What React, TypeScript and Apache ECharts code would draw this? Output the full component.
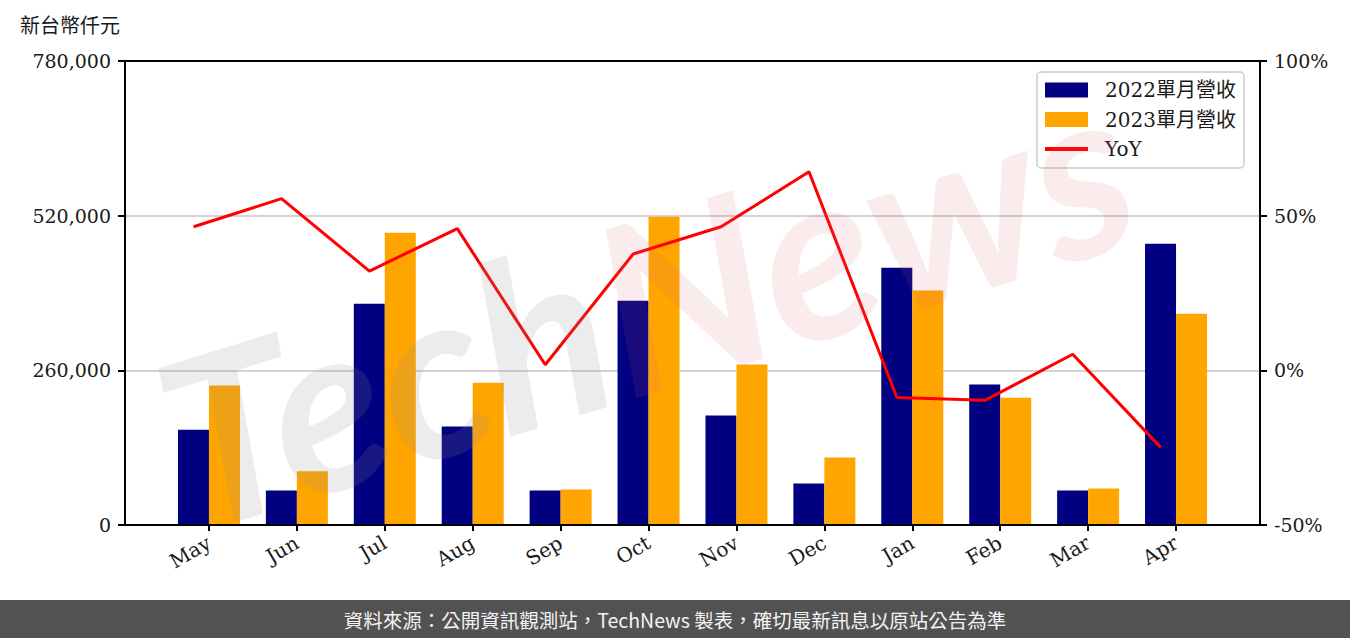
import React, { useEffect, useRef } from "react";
import * as echarts from "echarts";

const months = ["May", "Jun", "Jul", "Aug", "Sep", "Oct", "Nov", "Dec", "Jan", "Feb", "Mar", "Apr"];
const rev2022 = [160300, 57800, 372100, 165400, 57800, 377100, 183900, 69600, 432600, 236000, 57800, 473000];
const rev2023 = [234300, 90300, 491400, 239300, 59500, 518300, 269600, 113300, 394000, 214100, 61200, 355300];
const yoy = [46.4, 55.5, 32.1, 45.8, 1.8, 37.6, 46.4, 64.2, -8.8, -9.7, 5.2, -24.9];
const leftAxis = { min: 0, max: 780000, interval: 260000 };
const rightAxis = { min: -50, max: 100, interval: 50 };
const seriesNames = ["2022單月營收", "2023單月營收", "YoY"];
const unitLabel = "新台幣仟元";
const footerText = "資料來源：公開資訊觀測站，TechNews 製表，確切最新訊息以原站公告為準";

const SERIF = '"DejaVu Serif", "Noto Sans CJK TC", serif';
const CJK = '"Noto Sans CJK TC", sans-serif';
const HALF_BAR = 0.175;

export default function App() {
  const ref = useRef<HTMLDivElement>(null);
  useEffect(() => {
    document.body.style.margin = "0";
    const chart = echarts.init(ref.current!, null, { renderer: "svg" });
    const idx = months.map((_, i) => i);
    chart.setOption({
      animation: false,
      backgroundColor: "#ffffff",
      grid: {
        left: 125,
        right: 90,
        top: 61,
        bottom: 113,
        show: true,
        borderColor: "#000",
        borderWidth: 2,
        backgroundColor: "transparent",
        z: 3,
      },
      legend: {
        orient: "vertical",
        left: 1037,
        top: 72,
        itemWidth: 43,
        itemHeight: 15,
        itemGap: 9.5,
        padding: [8, 8, 9, 8],
        borderColor: "#cccccc",
        borderWidth: 1.5,
        borderRadius: 4,
        backgroundColor: "rgba(255,255,255,0.85)",
        z: 6,
        data: [
          { name: seriesNames[0], icon: "rect" },
          { name: seriesNames[1], icon: "rect" },
          { name: seriesNames[2], icon: "path://M0,0 L43,0 L43,4 L0,4 Z" },
        ],
        textStyle: {
          fontFamily: SERIF,
          fontSize: 20,
          lineHeight: 20,
          color: "#1a1a1a",
          padding: [0, 0, 0, 12],
        },
      },
      xAxis: {
        type: "value",
        min: -0.955,
        max: 11.955,
        axisLine: { show: false },
        splitLine: { show: false },
        axisTick: {
          show: true,
          customValues: idx,
          length: 6,
          lineStyle: { color: "#000", width: 2 },
        },
        axisLabel: {
          customValues: idx,
          formatter: (v: number) => months[Math.round(v)] ?? "",
          rotate: 30,
          margin: 16,
          fontFamily: SERIF,
          fontSize: 20,
          color: "#1a1a1a",
        },
      },
      yAxis: [
        {
          type: "value",
          position: "left",
          ...leftAxis,
          axisLine: { show: false, onZero: false },
          axisTick: { show: true, length: 7, lineStyle: { color: "#000", width: 2 } },
          axisLabel: {
            formatter: (v: number) => v.toLocaleString("en-US"),
            fontFamily: SERIF,
            fontSize: 19,
            color: "#1a1a1a",
            margin: 14,
          },
          splitLine: { show: true, lineStyle: { color: "#d3d3d3", width: 2 } },
        },
        {
          type: "value",
          position: "right",
          ...rightAxis,
          axisLine: { show: false, onZero: false },
          axisTick: { show: true, length: 7, lineStyle: { color: "#000", width: 2 } },
          axisLabel: {
            formatter: (v: number) => `${v}%`,
            fontFamily: SERIF,
            fontSize: 19,
            color: "#1a1a1a",
            margin: 14,
          },
          splitLine: { show: false },
        },
      ],
      series: [
        {
          name: seriesNames[0],
          type: "bar",
          yAxisIndex: 0,
          barWidth: 31,
          barGap: "0%",
          itemStyle: { color: "#000080" },
          data: idx.map((i) => [i, rev2022[i]]),
          z: 2,
        },
        {
          name: seriesNames[1],
          type: "bar",
          yAxisIndex: 0,
          barWidth: 31,
          barGap: "0%",
          itemStyle: { color: "#FFA500" },
          data: idx.map((i) => [i, rev2023[i]]),
          z: 2,
        },
        {
          name: seriesNames[2],
          type: "line",
          yAxisIndex: 1,
          symbol: "none",
          color: "#ff0000",
          lineStyle: { color: "#ff0000", width: 3 },
          data: idx.map((i) => [i - HALF_BAR, yoy[i]]),
          z: 4,
        },
      ],
      graphic: [
        {
          type: "text",
          left: 20,
          top: 16,
          style: { text: unitLabel, font: `20px ${SERIF}`, fill: "#1a1a1a" },
        },
        {
          type: "text",
          x: 645,
          y: 300,
          rotation: 0.3,
          silent: true,
          z: 10,
          style: {
            text: "{a|Tech}{b|News}",
            align: "center",
            verticalAlign: "middle",
            rich: {
              a: {
                fontFamily: "Lato",
                fontStyle: "italic",
                fontWeight: "bold",
                fontSize: 235,
                fill: "rgba(140,140,140,0.17)",
              },
              b: {
                fontFamily: "Lato",
                fontStyle: "italic",
                fontWeight: "bold",
                fontSize: 235,
                fill: "rgba(215,90,105,0.12)",
              },
            },
          },
        },
        {
          type: "rect",
          shape: { x: 0, y: 600, width: 1350, height: 38 },
          style: { fill: "#525252" },
          z: 20,
        },
        {
          type: "text",
          x: 675,
          y: 619,
          z: 21,
          style: {
            text: footerText,
            align: "center",
            verticalAlign: "middle",
            font: `19.5px ${CJK}`,
            fill: "#f2f2f2",
          },
        },
      ],
    });
    return () => chart.dispose();
  }, []);
  return (
    <div
      ref={ref}
      style={{ position: "fixed", left: 0, top: 0, width: 1350, height: 638, background: "#fff" }}
    />
  );
}
